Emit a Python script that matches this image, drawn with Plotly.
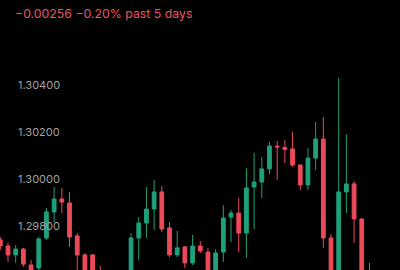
import plotly.graph_objects as go

# Candle data (index order, left to right)
opens = [1.29741, 1.29715, 1.29677, 1.29702, 1.29634, 1.29621, 1.29749, 1.29860, 1.29915, 1.29898,
         1.29758, 1.29677, 1.29677, 1.29580, 1.29560, 1.29530, 1.29570, 1.29570, 1.29749, 1.29813,
         1.29872, 1.29945, 1.29792, 1.29677, 1.29711, 1.29643, 1.29715, 1.29689, 1.29570, 1.29689,
         1.29838, 1.29855, 1.29770, 1.29966, 1.29987, 1.30043, 1.30140, 1.30134, 1.30128, 1.30060,
         1.29975, 1.30089, 1.30170, 1.29749, 1.29570, 1.29945, 1.29979, 1.29830, 1.29590, 1.29540,
         1.29580, 1.29560]
highs = [1.29753, 1.29728, 1.29719, 1.29707, 1.29655, 1.29753, 1.29877, 1.29966, 1.29962, 1.29945,
         1.29770, 1.29685, 1.29681, 1.29630, 1.29590, 1.29595, 1.29600, 1.29770, 1.29838, 1.29966,
         1.29996, 1.29970, 1.29817, 1.29779, 1.29715, 1.29762, 1.29736, 1.29707, 1.29702, 1.29889,
         1.29868, 1.29919, 1.30047, 1.30111, 1.30094, 1.30158, 1.30162, 1.30166, 1.30200, 1.30060,
         1.30132, 1.30243, 1.30264, 1.29766, 1.30430, 1.30191, 1.29991, 1.29830, 1.29643, 1.29600,
         1.29600, 1.29590]
lows = [1.29697, 1.29647, 1.29643, 1.29626, 1.29570, 1.29604, 1.29741, 1.29817, 1.29855, 1.29711,
        1.29613, 1.29549, 1.29528, 1.29520, 1.29510, 1.29510, 1.29520, 1.29549, 1.29655, 1.29749,
        1.29783, 1.29775, 1.29668, 1.29668, 1.29621, 1.29634, 1.29685, 1.29549, 1.29549, 1.29647,
        1.29732, 1.29689, 1.29664, 1.29787, 1.29919, 1.30021, 1.29996, 1.30068, 1.30051, 1.29953,
        1.29953, 1.30038, 1.29707, 1.29549, 1.29549, 1.29855, 1.29728, 1.29528, 1.29520, 1.29520,
        1.29530, 1.29520]
closes = [1.29715, 1.29677, 1.29702, 1.29638, 1.29592, 1.29745, 1.29860, 1.29915, 1.29902, 1.29753,
          1.29677, 1.29570, 1.29549, 1.29540, 1.29530, 1.29570, 1.29540, 1.29749, 1.29813, 1.29872,
          1.29945, 1.29787, 1.29677, 1.29707, 1.29643, 1.29715, 1.29694, 1.29570, 1.29685, 1.29834,
          1.29855, 1.29770, 1.29962, 1.29987, 1.30043, 1.30140, 1.30136, 1.30126, 1.30060, 1.29975,
          1.30089, 1.30170, 1.29749, 1.29570, 1.29945, 1.29979, 1.29830, 1.29549, 1.29540, 1.29580,
          1.29550, 1.29530]
x_index = list(range(len(opens)))

tick_values = [1.29800, 1.30000, 1.30200, 1.30400]
tick_labels = ["1.29800", "1.30000", "1.30200", "1.30400"]
title_text = "\u22120.00256 \u22120.20% past 5 days"

GREEN = "#1FA07A"
RED = "#EC4A5A"

fig = go.Figure(go.Candlestick(
    x=x_index, open=opens, high=highs, low=lows, close=closes,
    increasing=dict(line=dict(color=GREEN, width=1), fillcolor=GREEN),
    decreasing=dict(line=dict(color=RED, width=1), fillcolor=RED),
    whiskerwidth=0,
    hoverinfo="skip",
))

fig.update_layout(
    width=400, height=270,
    margin=dict(l=0, r=0, t=0, b=0),
    paper_bgcolor="black", plot_bgcolor="black",
    showlegend=False,
    title=dict(text=title_text, x=15 / 400, xanchor="left", y=1 - 14 / 270, yanchor="middle",
               font=dict(family="Inter", size=12.3, color="#EB5563")),
    xaxis=dict(range=[-0.04, 51.97], visible=False, rangeslider=dict(visible=False),
               fixedrange=True),
    yaxis=dict(range=[1.296128, 1.307617], tickvals=tick_values, ticktext=tick_labels,
               ticklabelposition="inside", ticklabelstandoff=15, showgrid=False,
               zeroline=False, showline=False, ticks="",
               tickfont=dict(family="Inter", size=11, color="#A0A0A0"), fixedrange=True),
)

fig.write_html("out.html")
